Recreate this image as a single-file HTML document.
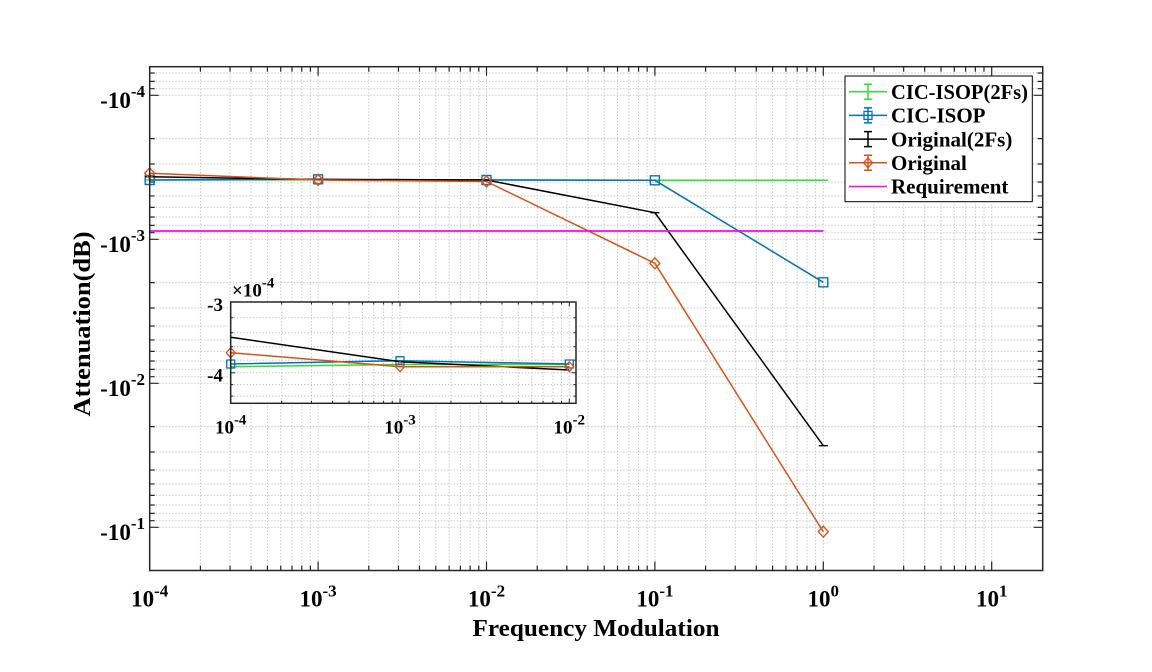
<!DOCTYPE html>
<html><head><meta charset="utf-8"><style>
html,body{margin:0;padding:0;background:#fff;}
svg{display:block;}
text{font-family:"Liberation Serif","Times New Roman",serif;font-weight:bold;fill:#000;}
</style></head><body>
<svg width="1152" height="672" viewBox="0 0 1152 672" xmlns="http://www.w3.org/2000/svg">
<rect x="0" y="0" width="1152" height="672" fill="#fff"/>
<!-- main grid -->
<g stroke="#bdbdbd" stroke-width="1" stroke-dasharray="1.2 2" fill="none">
<path d="M200.4 66.7V570.5M230.05 66.7V570.5M251.08 66.7V570.5M267.41 66.7V570.5M280.74 66.7V570.5M292.01 66.7V570.5M301.77 66.7V570.5M310.39 66.7V570.5M318.1 66.7V570.5
M368.79 66.7V570.5M398.45 66.7V570.5M419.48 66.7V570.5M435.81 66.7V570.5M449.14 66.7V570.5M460.41 66.7V570.5M470.17 66.7V570.5M478.79 66.7V570.5M486.5 66.7V570.5
M537.19 66.7V570.5M566.85 66.7V570.5M587.88 66.7V570.5M604.21 66.7V570.5M617.54 66.7V570.5M628.81 66.7V570.5M638.57 66.7V570.5M647.19 66.7V570.5M654.9 66.7V570.5
M705.59 66.7V570.5M735.25 66.7V570.5M756.28 66.7V570.5M772.61 66.7V570.5M785.94 66.7V570.5M797.21 66.7V570.5M806.97 66.7V570.5M815.59 66.7V570.5M823.3 66.7V570.5
M873.99 66.7V570.5M903.65 66.7V570.5M924.68 66.7V570.5M941.01 66.7V570.5M954.34 66.7V570.5M965.61 66.7V570.5M975.37 66.7V570.5M983.99 66.7V570.5M991.7 66.7V570.5"/>
<path d="M149.7 72.99H1042.7M149.7 81.35H1042.7M149.7 88.71H1042.7M149.7 95.3H1042.7
M149.7 138.65H1042.7M149.7 164H1042.7M149.7 182H1042.7M149.7 195.95H1042.7M149.7 207.35H1042.7M149.7 216.99H1042.7M149.7 225.35H1042.7M149.7 232.71H1042.7M149.7 239.3H1042.7
M149.7 282.65H1042.7M149.7 308H1042.7M149.7 326H1042.7M149.7 339.95H1042.7M149.7 351.35H1042.7M149.7 360.99H1042.7M149.7 369.35H1042.7M149.7 376.71H1042.7M149.7 383.3H1042.7
M149.7 426.65H1042.7M149.7 452H1042.7M149.7 470H1042.7M149.7 483.95H1042.7M149.7 495.35H1042.7M149.7 504.99H1042.7M149.7 513.35H1042.7M149.7 520.71H1042.7M149.7 527.3H1042.7"/>
</g>
<!-- main ticks -->
<g stroke="#262626" stroke-width="1.2" fill="none">
<path d="M200.4 570.5v-5M230.05 570.5v-5M251.08 570.5v-5M267.41 570.5v-5M280.74 570.5v-5M292.01 570.5v-5M301.77 570.5v-5M310.39 570.5v-5M318.1 570.5v-9
M368.79 570.5v-5M398.45 570.5v-5M419.48 570.5v-5M435.81 570.5v-5M449.14 570.5v-5M460.41 570.5v-5M470.17 570.5v-5M478.79 570.5v-5M486.5 570.5v-9
M537.19 570.5v-5M566.85 570.5v-5M587.88 570.5v-5M604.21 570.5v-5M617.54 570.5v-5M628.81 570.5v-5M638.57 570.5v-5M647.19 570.5v-5M654.9 570.5v-9
M705.59 570.5v-5M735.25 570.5v-5M756.28 570.5v-5M772.61 570.5v-5M785.94 570.5v-5M797.21 570.5v-5M806.97 570.5v-5M815.59 570.5v-5M823.3 570.5v-9
M873.99 570.5v-5M903.65 570.5v-5M924.68 570.5v-5M941.01 570.5v-5M954.34 570.5v-5M965.61 570.5v-5M975.37 570.5v-5M983.99 570.5v-5M991.7 570.5v-9"/>
<path d="M200.4 66.7v5M230.05 66.7v5M251.08 66.7v5M267.41 66.7v5M280.74 66.7v5M292.01 66.7v5M301.77 66.7v5M310.39 66.7v5M318.1 66.7v9
M368.79 66.7v5M398.45 66.7v5M419.48 66.7v5M435.81 66.7v5M449.14 66.7v5M460.41 66.7v5M470.17 66.7v5M478.79 66.7v5M486.5 66.7v9
M537.19 66.7v5M566.85 66.7v5M587.88 66.7v5M604.21 66.7v5M617.54 66.7v5M628.81 66.7v5M638.57 66.7v5M647.19 66.7v5M654.9 66.7v9
M705.59 66.7v5M735.25 66.7v5M756.28 66.7v5M772.61 66.7v5M785.94 66.7v5M797.21 66.7v5M806.97 66.7v5M815.59 66.7v5M823.3 66.7v9
M873.99 66.7v5M903.65 66.7v5M924.68 66.7v5M941.01 66.7v5M954.34 66.7v5M965.61 66.7v5M975.37 66.7v5M983.99 66.7v5M991.7 66.7v9"/>
<path d="M149.7 72.99h5M149.7 81.35h5M149.7 88.71h5M149.7 95.3h9
M149.7 138.65h5M149.7 164h5M149.7 182h5M149.7 195.95h5M149.7 207.35h5M149.7 216.99h5M149.7 225.35h5M149.7 232.71h5M149.7 239.3h9
M149.7 282.65h5M149.7 308h5M149.7 326h5M149.7 339.95h5M149.7 351.35h5M149.7 360.99h5M149.7 369.35h5M149.7 376.71h5M149.7 383.3h9
M149.7 426.65h5M149.7 452h5M149.7 470h5M149.7 483.95h5M149.7 495.35h5M149.7 504.99h5M149.7 513.35h5M149.7 520.71h5M149.7 527.3h9"/>
<path d="M1042.7 72.99h-5M1042.7 81.35h-5M1042.7 88.71h-5M1042.7 95.3h-9
M1042.7 138.65h-5M1042.7 164h-5M1042.7 182h-5M1042.7 195.95h-5M1042.7 207.35h-5M1042.7 216.99h-5M1042.7 225.35h-5M1042.7 232.71h-5M1042.7 239.3h-9
M1042.7 282.65h-5M1042.7 308h-5M1042.7 326h-5M1042.7 339.95h-5M1042.7 351.35h-5M1042.7 360.99h-5M1042.7 369.35h-5M1042.7 376.71h-5M1042.7 383.3h-9
M1042.7 426.65h-5M1042.7 452h-5M1042.7 470h-5M1042.7 483.95h-5M1042.7 495.35h-5M1042.7 504.99h-5M1042.7 513.35h-5M1042.7 520.71h-5M1042.7 527.3h-9"/>
</g>
<!-- series -->
<g fill="none" stroke-width="1.5" stroke-linejoin="round">
<path d="M149.7 180L318.1 179.8L486.5 180L654.9 180.3L823.3 180.3" stroke="#2ee02e"/>
<path d="M145.2 180h9M313.6 179.8h9M482 180h9M650.4 180.3h9M818.8 180.3h9" stroke="#2ee02e"/>
<path d="M149.7 180L318.1 179.3L486.5 180L654.9 180.3L823.3 282.3" stroke="#0072bd"/>
<path d="M145.2 175.5h9v9h-9zM313.6 174.8h9v9h-9zM482 175.5h9v9h-9zM650.4 175.8h9v9h-9zM818.8 277.8h9v9h-9z" stroke="#0072bd" stroke-width="1.4"/>
<path d="M149.7 176.7L318.1 179.5L486.5 180L654.9 212.7L823.3 445.7" stroke="#000"/>
<path d="M145.2 176.7h9M313.6 179.5h9M482 180h9M650.4 212.7h9M818.8 445.7h9" stroke="#000" stroke-width="1.3"/>
<path d="M149.7 173.3L318.1 180L486.5 181.5L654.9 263.3L823.3 531.7" stroke="#d95319"/>
<path d="M149.7 167.8l5 5.5l-5 5.5l-5 -5.5zM318.1 174.5l5 5.5l-5 5.5l-5 -5.5zM486.5 176l5 5.5l-5 5.5l-5 -5.5zM654.9 257.8l5 5.5l-5 5.5l-5 -5.5zM823.3 526.2l5 5.5l-5 5.5l-5 -5.5z" stroke="#d95319" stroke-width="1.4"/>
<path d="M149.7 231L823.3 231" stroke="#ff00ff" stroke-width="1.7"/>
</g>
<!-- axes box -->
<rect x="149.7" y="66.7" width="893" height="503.8" fill="none" stroke="#262626" stroke-width="1.5"/>
<!-- main tick labels -->
<g font-size="23">
<text x="149.7" y="606.5" text-anchor="middle">10<tspan font-size="17" dy="-10">-4</tspan></text>
<text x="318.1" y="606.5" text-anchor="middle">10<tspan font-size="17" dy="-10">-3</tspan></text>
<text x="486.5" y="606.5" text-anchor="middle">10<tspan font-size="17" dy="-10">-2</tspan></text>
<text x="654.9" y="606.5" text-anchor="middle">10<tspan font-size="17" dy="-10">-1</tspan></text>
<text x="823.3" y="606.5" text-anchor="middle">10<tspan font-size="17" dy="-10">0</tspan></text>
<text x="991.7" y="606.5" text-anchor="middle">10<tspan font-size="17" dy="-10">1</tspan></text>
<text x="145" y="107.8" text-anchor="end">-10<tspan font-size="17" dy="-11">-4</tspan></text>
<text x="145" y="251.8" text-anchor="end">-10<tspan font-size="17" dy="-11">-3</tspan></text>
<text x="145" y="395.8" text-anchor="end">-10<tspan font-size="17" dy="-11">-2</tspan></text>
<text x="145" y="539.8" text-anchor="end">-10<tspan font-size="17" dy="-11">-1</tspan></text>
</g>
<text x="596" y="636" text-anchor="middle" font-size="24" textLength="247" lengthAdjust="spacingAndGlyphs">Frequency Modulation</text>
<text transform="translate(90,324) rotate(-90)" x="0" y="0" text-anchor="middle" font-size="24" textLength="185" lengthAdjust="spacingAndGlyphs">Attenuation(dB)</text>
<!-- legend -->
<rect x="845" y="76" width="187.3" height="125.7" fill="#fff" stroke="#000" stroke-width="1"/>
<g fill="none" stroke-width="1.5">
<path d="M849 91.7H887M868 84.2V99.2M864 84.2h8M864 99.2h8" stroke="#2ee02e"/>
<path d="M849 115.4H887M868 107.9V122.9M864 107.9h8M864 122.9h8" stroke="#0072bd"/>
<rect x="864" y="111.4" width="8" height="8" stroke="#0072bd" stroke-width="1.3"/>
<path d="M849 139.1H887M868 131.6V146.6M864 131.6h8M864 146.6h8" stroke="#000"/>
<path d="M849 162.8H887M868 155.3V170.3M864 155.3h8M864 170.3h8" stroke="#d95319"/>
<path d="M868 157.8l4.5 5l-4.5 5l-4.5 -5z" stroke="#d95319" stroke-width="1.3"/>
<path d="M849 186.5H887" stroke="#ff00ff"/>
</g>
<g font-size="21">
<text x="891" y="98.9" textLength="137" lengthAdjust="spacingAndGlyphs">CIC-ISOP(2Fs)</text>
<text x="891" y="122.6">CIC-ISOP</text>
<text x="891" y="146.3">Original(2Fs)</text>
<text x="891" y="170">Original</text>
<text x="891" y="193.7">Requirement</text>
</g>
<!-- inset -->
<rect x="230.7" y="302" width="345.3" height="101.3" fill="#fff"/>
<g stroke="#bdbdbd" stroke-width="1" stroke-dasharray="1.2 2" fill="none">
<path d="M281.66 302V403.3M311.48 302V403.3M332.63 302V403.3M349.04 302V403.3M362.44 302V403.3M373.77 302V403.3M383.59 302V403.3M392.25 302V403.3M400 302V403.3
M450.96 302V403.3M480.78 302V403.3M501.93 302V403.3M518.34 302V403.3M531.74 302V403.3M543.07 302V403.3M552.89 302V403.3M561.55 302V403.3M569.3 302V403.3"/>
<path d="M230.7 317.8H576M230.7 332.8H576M230.7 346.8H576M230.7 360.1H576M230.7 372.7H576M230.7 384.6H576M230.7 396.1H576"/>
</g>
<g stroke="#262626" stroke-width="1" fill="none">
<path d="M281.66 403.3v-2.5M311.48 403.3v-2.5M332.63 403.3v-2.5M349.04 403.3v-2.5M362.44 403.3v-2.5M373.77 403.3v-2.5M383.59 403.3v-2.5M392.25 403.3v-2.5M400 403.3v-4.5
M450.96 403.3v-2.5M480.78 403.3v-2.5M501.93 403.3v-2.5M518.34 403.3v-2.5M531.74 403.3v-2.5M543.07 403.3v-2.5M552.89 403.3v-2.5M561.55 403.3v-2.5M569.3 403.3v-4.5"/>
<path d="M281.66 302v2.5M311.48 302v2.5M332.63 302v2.5M349.04 302v2.5M362.44 302v2.5M373.77 302v2.5M383.59 302v2.5M392.25 302v2.5M400 302v4.5
M450.96 302v2.5M480.78 302v2.5M501.93 302v2.5M518.34 302v2.5M531.74 302v2.5M543.07 302v2.5M552.89 302v2.5M561.55 302v2.5M569.3 302v4.5"/>
<path d="M230.7 317.8h2.5M230.7 332.8h2.5M230.7 346.8h2.5M230.7 360.1h2.5M230.7 372.7h4.5M230.7 384.6h2.5M230.7 396.1h2.5"/>
<path d="M576 317.8h-2.5M576 332.8h-2.5M576 346.8h-2.5M576 360.1h-2.5M576 372.7h-4.5M576 384.6h-2.5M576 396.1h-2.5"/>
</g>
<g fill="none" stroke-width="1.5" stroke-linejoin="round">
<path d="M230.7 366.7L400 364.5L569.3 364.5" stroke="#2ee02e"/>
<path d="M230.7 364L400 360.7L569.3 364" stroke="#0072bd"/>
<path d="M226.7 360h8v8h-8zM396 356.7h8v8h-8zM565.3 360h8v8h-8z" stroke="#0072bd" stroke-width="1.3"/>
<path d="M230.7 337.3L400 361.7L569.3 370" stroke="#000"/>
<path d="M230.7 352.7L400 366.7L569.3 366.7" stroke="#d95319"/>
<path d="M230.7 347.7l4.5 5l-4.5 5l-4.5 -5zM400 361.7l4.5 5l-4.5 5l-4.5 -5zM569.3 361.7l4.5 5l-4.5 5l-4.5 -5z" stroke="#d95319" stroke-width="1.3"/>
</g>
<rect x="230.7" y="302" width="345.3" height="101.3" fill="none" stroke="#262626" stroke-width="1.5"/>
<g font-size="19">
<text x="223" y="310.8" text-anchor="end">-3</text>
<text x="223" y="381.5" text-anchor="end">-4</text>
<text x="232" y="296.7">×10<tspan font-size="15" dy="-9">-4</tspan></text>
<text x="230.7" y="433.3" text-anchor="middle">10<tspan font-size="15" dy="-9">-4</tspan></text>
<text x="400" y="433.3" text-anchor="middle">10<tspan font-size="15" dy="-9">-3</tspan></text>
<text x="569.3" y="433.3" text-anchor="middle">10<tspan font-size="15" dy="-9">-2</tspan></text>
</g>
</svg>
</body></html>
